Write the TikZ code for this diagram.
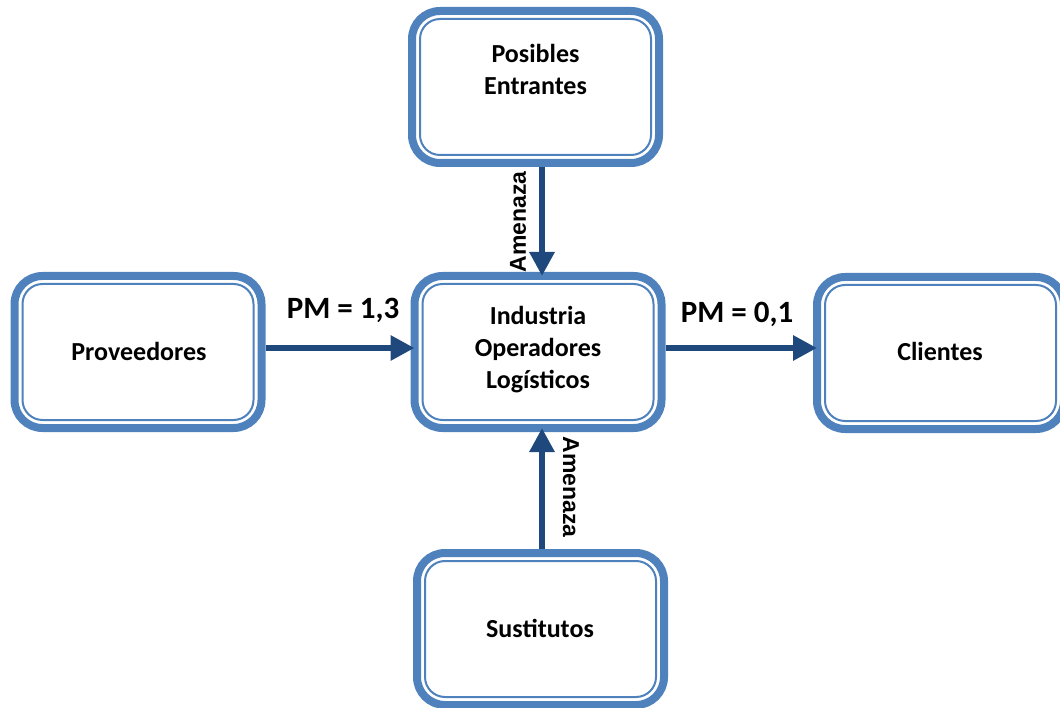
\documentclass[tikz,border=0pt]{standalone}
\usepackage{fontspec}
\setmainfont{Carlito}
\newfontfamily\arialbold{Liberation Sans}[UprightFont=*-Bold]
\usetikzlibrary{arrows.meta}
\definecolor{band}{RGB}{79,129,189}
\definecolor{arrcol}{RGB}{31,73,125}
\begin{document}
\begin{tikzpicture}[x=1pt,y=-1pt,
 pbox/.style={draw=band, line width=8pt, rounded corners=28pt, fill=white, minimum width=247pt, minimum height=152pt, inner sep=0pt},
 inline/.style={draw=band, line width=2pt, rounded corners=20pt},
 lbl/.style={font=\fontsize{26}{32}\selectfont\bfseries, align=center, inner sep=0pt},
 pm/.style={font=\fontsize{31}{37}\selectfont\bfseries, inner sep=0pt},
 amz/.style={font=\arialbold\fontsize{23}{28}\selectfont, inner sep=0pt},
 arr/.style={draw=arrcol, line width=6pt, -{Triangle[length=24pt,width=24pt]}, shorten >=-4pt}]
\useasboundingbox (0,0) rectangle (1060,708);
% boxes
\node[pbox] (top)  at (535.5,87) {};
\node[pbox] (ind)  at (538,352) {};
\node[pbox] (prov) at (138,352) {};
\node[pbox] (cli)  at (940.5,353) {};
\node[pbox] (sus)  at (540.5,629) {};
\foreach \n in {top,ind,prov,cli,sus}
  \draw[inline] ([xshift=12pt,yshift=-12pt]\n.north west) rectangle ([xshift=-12pt,yshift=12pt]\n.south east);
% texts
\node[lbl] (topT)  at (535.5,69) {Posibles\\Entrantes};
\node[lbl] (indT)  at (538,350) {Industria\\Operadores\\Logísticos};
\node[lbl] (provT) at (139,351) {Proveedores};
\node[lbl] (cliT)  at (940,351) {Clientes};
\node[lbl] (susT)  at (540,628) {Sustitutos};
% arrows
\coordinate (ax) at (542,0);
\coordinate (ay) at (0,348);
\draw[arr] (top.south -| ax) -- (ind.north -| ax);
\draw[arr] (sus.north -| ax) -- (ind.south -| ax);
\draw[arr] (prov.east |- ay) -- (ind.west |- ay);
\draw[arr] (ind.east |- ay) -- (cli.west |- ay);
% labels
\node[pm] (pm1) at (343,310) {PM = 1,3};
\node[pm] (pm2) at (737,314) {PM = 0,1};
\node[amz, rotate=90]  (am1) at (518,222) {Amenaza};
\node[amz, rotate=-90] (am2) at (571,487) {Amenaza};
\end{tikzpicture}
\end{document}
